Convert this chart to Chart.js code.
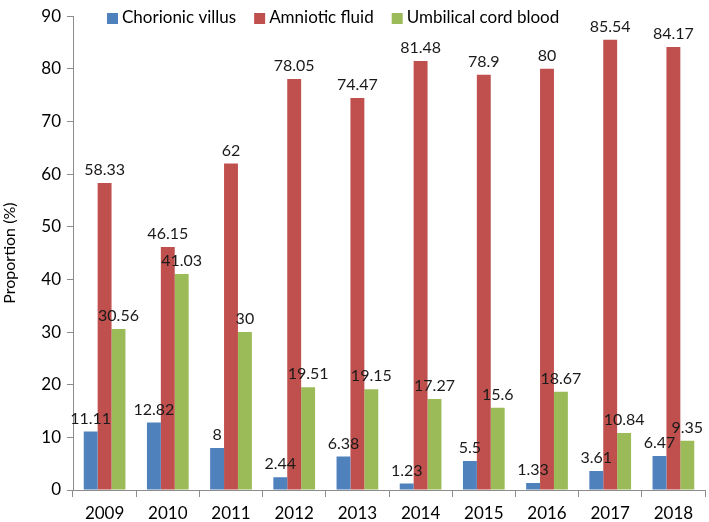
<!DOCTYPE html>
<html lang="en">
<head>
    <meta charset="UTF-8">
    <title>Proportion by sample type</title>
    <script src="https://cdn.jsdelivr.net/npm/chart.js"></script>
</head>
<body style="margin: 0; background: #fff;">

    <canvas id="proportionChart" width="709" height="522"></canvas>

    <script>
        // Values
        const years = ['2009', '2010', '2011', '2012', '2013', '2014', '2015', '2016', '2017', '2018'];
        const chorionicVillus = [11.11, 12.82, 8, 2.44, 6.38, 1.23, 5.5, 1.33, 3.61, 6.47];
        const amnioticFluid = [58.33, 46.15, 62, 78.05, 74.47, 81.48, 78.9, 80, 85.54, 84.17];
        const cordBlood = [30.56, 41.03, 30, 19.51, 19.15, 17.27, 15.6, 18.67, 10.84, 9.35];
        const yTicks = [0, 10, 20, 30, 40, 50, 60, 70, 80, 90];

        const FONT = 'Lato, "Open Sans", sans-serif';

        // Number above every bar
        const barLabels = {
            id: 'barLabels',
            afterDatasetsDraw(chart) {
                const c = chart.ctx;
                c.save();
                c.font = '16px ' + FONT;
                c.fillStyle = '#1a1a1a';
                c.textAlign = 'center';
                c.textBaseline = 'bottom';
                chart.data.datasets.forEach((ds, i) => {
                    chart.getDatasetMeta(i).data.forEach((bar, j) => {
                        c.fillText(String(ds.data[j]), bar.x, bar.y - 5);
                    });
                });
                c.restore();
            }
        };

        // Legend drawn inside the plot, top left
        const insideLegend = {
            id: 'insideLegend',
            afterDraw(chart) {
                const c = chart.ctx;
                c.save();
                c.font = '17px ' + FONT;
                c.textBaseline = 'middle';
                let x = chart.chartArea.left + 34;
                const y = 18;
                chart.data.datasets.forEach(ds => {
                    c.fillStyle = ds.backgroundColor;
                    c.fillRect(x, y - 5, 11, 11);
                    c.fillStyle = '#000';
                    c.fillText(ds.label, x + 15, y);
                    x += 15 + c.measureText(ds.label).width + 18;
                });
                c.restore();
            }
        };

        const ctx = document.getElementById('proportionChart').getContext('2d');
        const proportionChart = new Chart(ctx, {
            type: 'bar',
            data: {
                labels: years,
                datasets: [
                    { label: 'Chorionic villus', data: chorionicVillus, backgroundColor: '#4F81BD' },
                    { label: 'Amniotic fluid', data: amnioticFluid, backgroundColor: '#C0504D' },
                    { label: 'Umbilical cord blood', data: cordBlood, backgroundColor: '#9BBB59' }
                ]
            },
            options: {
                responsive: false,
                animation: false,
                layout: { padding: { top: 8, right: 4, left: 0, bottom: 0 } },
                datasets: {
                    bar: { categoryPercentage: 0.66, barPercentage: 1 }
                },
                plugins: {
                    legend: { display: false },
                    tooltip: { enabled: false }
                },
                scales: {
                    x: {
                        grid: {
                            offset: true,
                            drawOnChartArea: false,
                            tickLength: 7,
                            color: '#8c8c8c'
                        },
                        border: { color: '#8c8c8c' },
                        ticks: {
                            font: { size: 17, family: FONT },
                            color: '#000',
                            padding: 6
                        },
                        afterFit(scale) { scale.height = 32; }
                    },
                    y: {
                        min: 0,
                        max: 90,
                        afterBuildTicks(scale) {
                            scale.ticks = yTicks.map(v => ({ value: v }));
                        },
                        grid: {
                            drawOnChartArea: false,
                            tickLength: 6,
                            color: '#8c8c8c'
                        },
                        border: { color: '#8c8c8c' },
                        ticks: {
                            font: { size: 17, family: FONT },
                            color: '#000',
                            padding: 6
                        },
                        title: {
                            display: true,
                            text: 'Proportion (%)',
                            font: { size: 16, family: FONT },
                            color: '#000',
                            padding: { top: 0, bottom: 2 }
                        },
                        afterFit(scale) { scale.width = 73; }
                    }
                }
            },
            plugins: [barLabels, insideLegend]
        });
    </script>
</body>
</html>
